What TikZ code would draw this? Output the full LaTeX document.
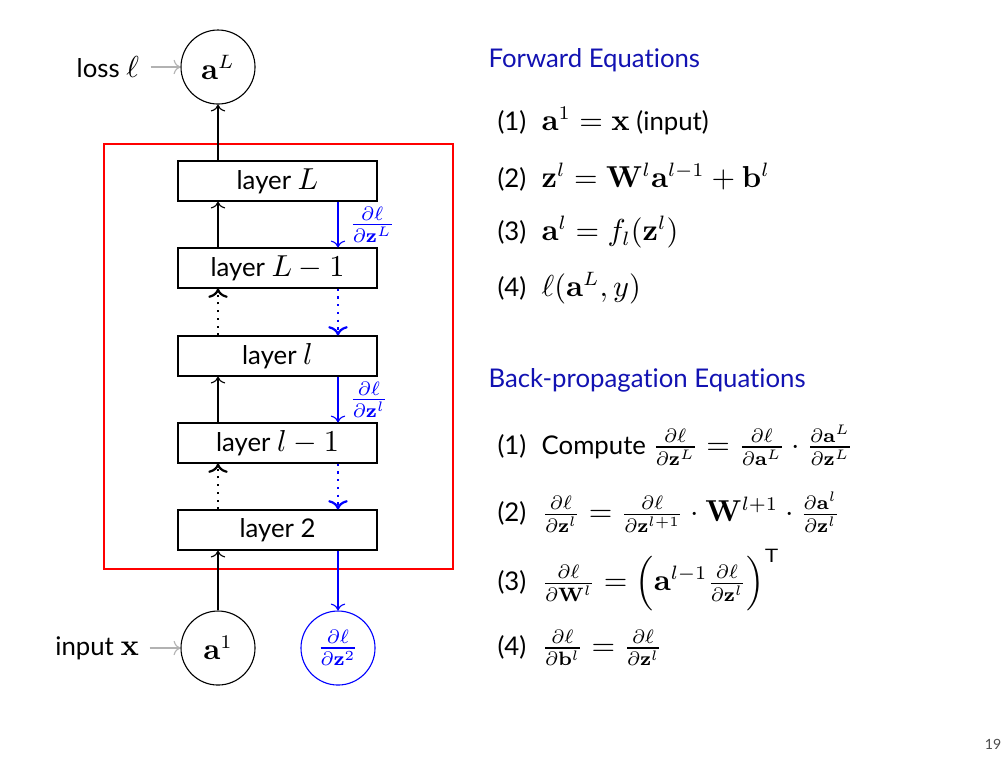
\documentclass[tikz,border=0pt]{standalone}
\usepackage{amsmath, amssymb}
\usepackage[no-math]{fontspec}
\setmainfont{Lato}[Scale=0.85, Ligatures=NoCommon]
\DeclareMathSizes{10.95}{10.95}{7}{5}
\usepackage{tikz}
\usetikzlibrary{positioning}
\usetikzlibrary{calc}
\usetikzlibrary{arrows.meta}
\definecolor{structcol}{RGB}{18,18,178}
\colorlet{gradcol}{blue}
\tikzset{>=To}
\tikzset{
  layerbox/.style={draw, minimum width=25.27mm, minimum height=5.08mm, inner sep=0pt},
  unit/.style={draw, circle, minimum size=9.4mm, inner sep=0pt},
  gradunit/.style={unit, gradcol},
  fwd/.style={->},
  bwd/.style={->, gradcol},
  inarrow/.style={->, black!30},
  gradlabel/.style={midway, right, inner sep=0pt, xshift=4pt},
  heading/.style={anchor=west, inner sep=0pt, text=structcol},
  eqn/.style={anchor=west, inner sep=0pt}
}

\begin{document}
\begin{tikzpicture}[x=0.127mm, y=-0.127mm, font=\fontsize{10.95}{13}\selectfont]
\useasboundingbox (0,0) rectangle (1008,756);

% Network frame
\draw[red, thick] (104,144) rectangle (453,569);

% Layers
\node[layerbox] (lL)   at (277.5,181) {layer $L$};
\node[layerbox] (lLm)  at (277.5,268) {layer $L-1$};
\node[layerbox] (ll)   at (277.5,356) {layer $l$};
\node[layerbox] (llm)  at (277.5,443) {layer $l-1$};
\node[layerbox] (l2)   at (277.5,530) {layer 2};

% Units
\node[unit] (aL) at (218,67) {$\mathbf{a}^L$};
\node[unit] (a1) at (218,648) {$\mathbf{a}^1$};
\node[gradunit] (dz2) at (338,648) {$\frac{\partial\ell}{\partial\mathbf{z}^2}$};
\node[left=5.2mm of aL.west, inner sep=0pt] (loss) {loss $\ell$};
\node[left=5.2mm of a1.west, inner sep=0pt] (inp) {input $\mathbf{x}$};
\coordinate[right=1.4mm of loss.east] (lossend);
\coordinate[right=1.3mm of inp.east] (inpend);
\draw[inarrow] (lossend) -- (aL.west);
\draw[inarrow] (inpend) -- (a1.west);

% Forward pass
\draw[fwd] (a1.north) -- (l2.south -| a1.north);
\draw[fwd, dotted, thick] (l2.north -| a1.north) -- (llm.south -| a1.north);
\draw[fwd] (llm.north -| a1.north) -- (ll.south -| a1.north);
\draw[fwd, dotted, thick] (ll.north -| a1.north) -- (lLm.south -| a1.north);
\draw[fwd] (lLm.north -| a1.north) -- (lL.south -| a1.north);
\draw[fwd] (lL.north -| aL.south) -- (aL.south);

% Backward pass
\draw[bwd] (lL.south -| dz2.north) -- (lLm.north -| dz2.north)
  node[gradlabel] {$\frac{\partial\ell}{\partial\mathbf{z}^L}$};
\draw[bwd, dotted, thick] (lLm.south -| dz2.north) -- (ll.north -| dz2.north);
\draw[bwd] (ll.south -| dz2.north) -- (llm.north -| dz2.north)
  node[gradlabel] {$\frac{\partial\ell}{\partial\mathbf{z}^l}$};
\draw[bwd, dotted, thick] (llm.south -| dz2.north) -- (l2.north -| dz2.north);
\draw[bwd] (l2.south -| dz2.north) -- (dz2.north);

% Forward equations
\node[heading] (fwdhead) at (488,60) {Forward Equations};
\node[eqn] (f1) at (497,121) {(1)\hspace{0.6em}$\mathbf{a}^1=\mathbf{x}$ (input)};
\node[eqn] (f2) at (497,177) {(2)\hspace{0.6em}$\mathbf{z}^l=\mathbf{W}^l\mathbf{a}^{l-1}+\mathbf{b}^l$};
\node[eqn] (f3) at (497,232) {(3)\hspace{0.6em}$\mathbf{a}^l=f_l(\mathbf{z}^l)$};
\node[eqn] (f4) at (497,288) {(4)\hspace{0.6em}$\ell(\mathbf{a}^L,y)$};

% Back-propagation equations
\node[heading] (bwdhead) at (488,380) {Back-propagation Equations};
\node[eqn] (b1) at (497,445) {(1)\hspace{0.6em}Compute $\frac{\partial\ell}{\partial\mathbf{z}^L}=\frac{\partial\ell}{\partial\mathbf{a}^L}\cdot\frac{\partial\mathbf{a}^L}{\partial\mathbf{z}^L}$};
\node[eqn] (b2) at (497,512) {(2)\hspace{0.6em}$\frac{\partial\ell}{\partial\mathbf{z}^l}=\frac{\partial\ell}{\partial\mathbf{z}^{l+1}}\cdot\mathbf{W}^{l+1}\cdot\frac{\partial\mathbf{a}^l}{\partial\mathbf{z}^l}$};
\node[eqn] (b3) at (497,580) {(3)\hspace{0.6em}$\frac{\partial\ell}{\partial\mathbf{W}^l}=\Bigl(\mathbf{a}^{l-1}\frac{\partial\ell}{\partial\mathbf{z}^l}\Bigr)^{\textsf{T}}$};
\node[eqn] (b4) at (497,648) {(4)\hspace{0.6em}$\frac{\partial\ell}{\partial\mathbf{b}^l}=\frac{\partial\ell}{\partial\mathbf{z}^l}$};

% Page number
\node[font=\fontsize{6}{7}\selectfont, text=black!70] (page) at (993,744) {19};
\end{tikzpicture}
\end{document}
